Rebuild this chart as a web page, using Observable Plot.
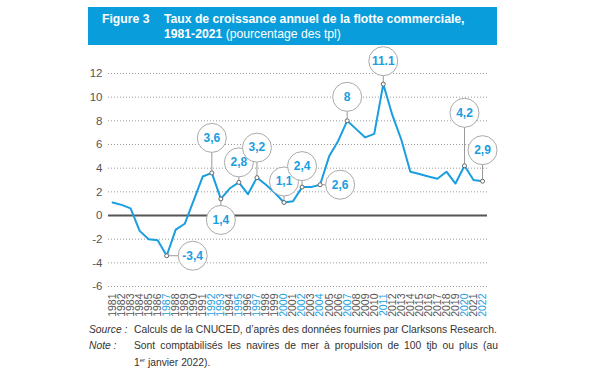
<!DOCTYPE html>
<html>
<head>
<meta charset="utf-8">
<script src="https://cdn.jsdelivr.net/npm/d3@7"></script>
<script src="https://cdn.jsdelivr.net/npm/@observablehq/plot@0.6"></script>
<style>
  html, body { margin: 0; padding: 0; background: #fff; width: 589px; height: 391px; overflow: hidden; font-family: "Liberation Sans", Arial, sans-serif; }
  #banner { position: absolute; left: 88px; top: 7px; width: 409px; height: 38px; background: #0a9ddb; color: #fff; z-index: 2; }
  #banner .fig { position: absolute; left: 14px; top: 5px; font-size: 12.2px; font-weight: bold; }
  #banner .ttl { position: absolute; left: 76px; top: 5px; font-size: 12.2px; font-weight: bold; line-height: 15px; }
  #banner .ttl span { font-weight: normal; }
  #chart { position: absolute; left: 0; top: 40px; z-index: 1; }
  #chart svg { overflow: visible; }
  .cap { position: absolute; font-size: 10.3px; color: #333; line-height: 15px; }
  .cap i { position: absolute; left: 0; top: 0; }
  .cap .body { margin-left: 45px; }
</style>
</head>
<body>
<div id="banner">
  <div class="fig">Figure 3</div>
  <div class="ttl">Taux de croissance annuel de la flotte commerciale,<br>1981-2021 <span>(pourcentage des tpl)</span></div>
</div>
<div id="chart"></div>
<div class="cap" style="left:89px; top:322px; width:420px;"><i>Source :</i><div class="body">Calculs de la CNUCED, d’après des données fournies par Clarksons Research.</div></div>
<div class="cap" style="left:89px; top:338px; width:409px;"><i>Note :</i>
  <div class="body" style="text-align: justify; text-align-last: justify;">Sont comptabilisés les navires de mer à propulsion de 100 tjb ou plus (au</div>
  <div class="body">1<sup style="font-size:6px;">er</sup> janvier 2022).</div>
</div>
<script>
const years = [1981,1982,1983,1984,1985,1986,1987,1988,1989,1990,1991,1992,1993,1994,1995,1996,1997,1998,1999,2000,2001,2002,2003,2004,2005,2006,2007,2008,2009,2010,2011,2012,2013,2014,2015,2016,2017,2018,2019,2020,2021,2022];
const growth = [1.1,0.9,0.6,-1.3,-2.0,-2.1,-3.4,-1.2,-0.7,1.3,3.3,3.6,1.4,2.3,2.8,1.8,3.2,2.6,1.9,1.1,1.2,2.4,2.4,2.6,5.0,6.3,8.0,7.3,6.6,6.9,11.1,8.5,6.4,3.7,3.5,3.3,3.1,3.7,2.7,4.2,3.0,2.9];
const yTicks = [-6,-4,-2,0,2,4,6,8,10,12];
const highlightYears = [1987,1992,1993,1995,1997,2000,2002,2004,2007,2011,2020,2022];
const calloutYears = [1987,1992,1993,1995,1997,2000,2002,2004,2007,2011,2020,2022];
const calloutLabels = ["-3,4","3,6","1,4","2,8","3,2","1,1","2,4","2,6","8","11.1","4,2","2,9"];
// callout placement: [direction, distance in px]
const calloutPlacement = [["right",26],["up",35],["down",21],["up",20],["up",30],["up",21],["up",21],["right",20],["up",24],["up",23],["up",53],["up",31]];

const BLUE = "#1a9ee0";
const data = years.map((y, i) => ({year: y, value: growth[i]}));
const plainYears = years.filter(y => !highlightYears.includes(y));
const narrow = "'Liberation Sans Narrow', 'Liberation Sans', Arial, sans-serif";

const marks = [
  Plot.gridY(yTicks.filter(t => t !== 0), {stroke: "#9a9a9a", strokeOpacity: 1, strokeDasharray: "1,2"}),
  Plot.ruleY([0], {stroke: "#555", strokeWidth: 2}),
  Plot.axisY({ticks: yTicks, tickSize: 0, tickPadding: 6, tickFormat: d => String(d), fontSize: 11.5, fill: "#555", label: null}),
  Plot.axisX(plainYears, {tickRotate: -90, tickSize: 0, tickPadding: 7, tickFormat: d => String(d), fontSize: 10.5, fill: "#555", label: null, fontFamily: narrow}),
  Plot.axisX(highlightYears, {tickRotate: -90, tickSize: 0, tickPadding: 7, tickFormat: d => String(d), fontSize: 10.5, fill: BLUE, label: null, fontFamily: narrow}),
  Plot.line(data, {x: "year", y: "value", stroke: BLUE, strokeWidth: 2})
];

calloutYears.forEach((yr, i) => {
  const v = growth[years.indexOf(yr)];
  const [dir, dist] = calloutPlacement[i];
  const dx = dir === "right" ? dist : 0;
  const dy = dir === "up" ? -dist : dir === "down" ? dist : 0;
  const pt = [{year: yr, value: v}];
  if (dir === "right") {
    marks.push(Plot.ruleY(pt, {y: "value", x1: "year", x2: "year", insetRight: -dist, stroke: "#999", strokeWidth: 1}));
  } else if (dir === "up") {
    marks.push(Plot.ruleX(pt, {x: "year", y1: "value", y2: "value", insetTop: -dist, stroke: "#999", strokeWidth: 1}));
  } else {
    marks.push(Plot.ruleX(pt, {x: "year", y1: "value", y2: "value", insetBottom: -dist, stroke: "#999", strokeWidth: 1}));
  }
  marks.push(Plot.dot(pt, {x: "year", y: "value", r: 2, fill: "#fff", stroke: "#666", strokeWidth: 1}));
  marks.push(Plot.dot(pt, {x: "year", y: "value", dx, dy, r: 14.5, fill: "#fff", stroke: "#aaa", strokeWidth: 1}));
  marks.push(Plot.text(pt, {x: "year", y: "value", dx, dy, text: () => calloutLabels[i], fill: BLUE, fontWeight: "bold", fontSize: 12}));
});

const chart = Plot.plot({
  width: 589,
  height: 290,
  marginLeft: 108,
  marginRight: 102,
  marginTop: 33,
  marginBottom: 44,
  style: {fontFamily: "'Liberation Sans', Arial, sans-serif", background: "transparent"},
  x: {domain: [1980.55, 2022.55], axis: null},
  y: {domain: [-6, 12], axis: null},
  marks
});
document.getElementById("chart").appendChild(chart);
</script>
</body>
</html>
